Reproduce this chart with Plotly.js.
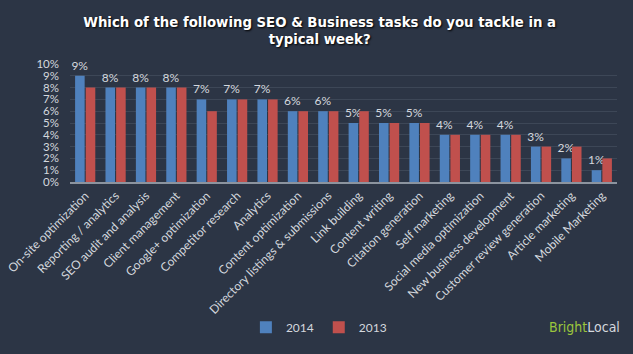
<!DOCTYPE html>
<html>
<head>
<meta charset="utf-8">
<script src="https://cdn.plot.ly/plotly-3.0.1.min.js"></script>
<style>
html,body{margin:0;padding:0;background:#2c3545;}
#chart{width:633px;height:354px;}
</style>
</head>
<body>
<div id="chart"></div>
<script>
const categories = [
  "On-site optimization", "Reporting / analytics", "SEO audit and analysis",
  "Client management", "Google+ optimization", "Competitor research",
  "Analytics", "Content optimization", "Directory listings & submissions",
  "Link building", "Content writing", "Citation generation",
  "Self marketing", "Social media optimization", "New business development",
  "Customer review generation", "Article marketing", "Mobile Marketing"
];
const values2014 = [9, 8, 8, 8, 7, 7, 7, 6, 6, 5, 5, 5, 4, 4, 4, 3, 2, 1];
const values2013 = [8, 8, 8, 8, 6, 7, 7, 6, 6, 6, 5, 5, 4, 4, 4, 3, 3, 2];
const yTicks = [0,1,2,3,4,5,6,7,8,9,10];
const yTickLabels = yTicks.map(v => v + "%");

const labelFont = {family: "Lato, 'Open Sans', sans-serif", size: 12, color: "#d4d8de"};

const traces = [
  {
    type: "bar", name: "2014", x: categories, y: values2014,
    marker: {color: "#4f81bd"},
    text: values2014.map(v => v + "%"), textposition: "outside", constraintext: "none",
    textfont: labelFont, cliponaxis: false, hoverinfo: "none"
  },
  {
    type: "bar", name: "2013", x: categories, y: values2013,
    marker: {color: "#c0504d"}, hoverinfo: "none"
  }
];

const layout = {
  width: 633, height: 354,
  paper_bgcolor: "#2c3545", plot_bgcolor: "#2c3545",
  margin: {l: 70, r: 16, t: 64, b: 169},
  barmode: "group", bargap: 0.3, bargroupgap: 0.1,
  title: {
    text: "Which of the following SEO & Business tasks do you tackle in a<br>typical week?",
    x: 0.505, xanchor: "center", y: 0.925, yanchor: "middle", yref: "container",
    font: {family: "'DejaVu Sans', sans-serif", size: 13.3, color: "#ffffff", weight: "bold",
           shadow: "1px 1px 2px #000000", lineposition: "none"}
  },
  xaxis: {
    tickangle: -45, showgrid: false, showline: true, linecolor: "#8c949f", linewidth: 2,
    ticks: "", tickfont: {family: "Lato, 'Open Sans', sans-serif", size: 12, color: "#d4d8de"},
    automargin: false
  },
  yaxis: {
    range: [0, 10], tickvals: yTicks, ticktext: yTickLabels,
    showgrid: true, gridcolor: "#3d4757", gridwidth: 1, zeroline: false,
    showline: false, ticks: "", ticklabelstandoff: 10,
    tickfont: {family: "Lato, 'Open Sans', sans-serif", size: 11.5, color: "#d4d8de"},
    automargin: false
  },
  showlegend: true,
  legend: {
    orientation: "h", x: 0.455, xanchor: "center", y: -1.23, yanchor: "middle",
    font: {family: "Lato, 'Open Sans', sans-serif", size: 12, color: "#d4d8de"},
    bgcolor: "rgba(0,0,0,0)", itemwidth: 30
  },
  annotations: [{
    text: "<span style='color:#9bc53d'>Bright</span>Local",
    xref: "paper", yref: "paper", x: 1.01, xanchor: "right",
    y: -1.23, yanchor: "middle", showarrow: false,
    font: {family: "'Liberation Sans Narrow', 'DejaVu Sans Condensed', Lato, sans-serif", size: 14, color: "#d4d8de"}
  }]
};

Plotly.newPlot("chart", traces, layout, {displayModeBar: false, staticPlot: true});
</script>
</body>
</html>
